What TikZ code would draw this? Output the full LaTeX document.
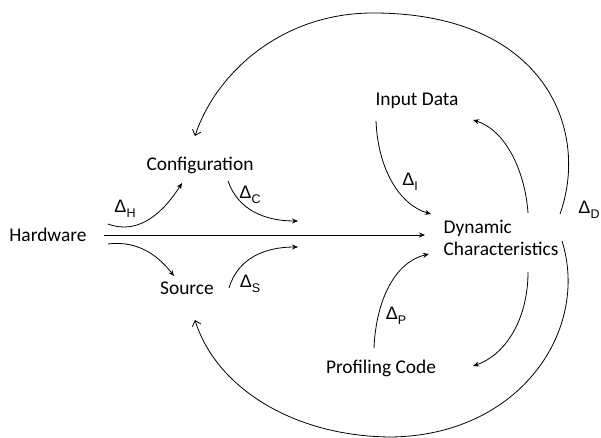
\documentclass[tikz,border=0pt]{standalone}
\usepackage{fontspec}
\setmainfont{Carlito}
\newfontfamily\dltfont{Liberation Sans}
\newcommand\dlt[1]{{\dltfont\fontsize{18bp}{20bp}\selectfont Δ}\raisebox{-5bp}{\dltfont\fontsize{12.5bp}{13bp}\selectfont #1}}
\usetikzlibrary{arrows.meta}
\begin{document}
\begin{tikzpicture}[x=1bp,y=-1bp,
  lbl/.style={font=\fontsize{19.4bp}{22bp}\selectfont, inner sep=0pt},
  dl/.style={inner sep=0pt},
  conn/.style={-{Stealth[length=6bp,width=5bp]}, line width=0.8bp},
  bigarc/.style={-{Straight Barb[length=5bp,width=9bp]}, line width=0.8bp}]
\useasboundingbox (0,0) rectangle (601,438);
% nodes
\node[lbl] (hw) at (48,235) {Hardware};
\node[lbl] (cfg) at (200,165) {Configuration};
\node[lbl] (src) at (187,288) {Source};
\node[lbl] (inp) at (417,101) {Input Data};
\node[lbl, align=left] (dyn) at (501,238) {Dynamic\\Characteristics};
\node[lbl] (prof) at (381,368) {Profiling Code};
% labels
\node[dl] (dH) at (125,209) {\dlt{H}};
\node[dl] (dC) at (250,195) {\dlt{C}};
\node[dl] (dS) at (250,284) {\dlt{S}};
\node[dl] (dI) at (410,182) {\dlt{I}};
\node[dl] (dP) at (396,316) {\dlt{P}};
\node[dl] (dD) at (589,210) {\dlt{D}};
% endpoints
\coordinate (hwR) at (104,235);
\coordinate (dynL) at (425,235);
\coordinate (hwU) at (108,224);
\coordinate (cfgIn) at (182,183);
\coordinate (hwD) at (108,244);
\coordinate (srcIn) at (174,276);
\coordinate (cfgOut) at (228,181);
\coordinate (cEnd) at (298,221);
\coordinate (srcOut) at (229,288);
\coordinate (sEnd) at (298,247);
\coordinate (inpOut) at (376,121);
\coordinate (dynInI) at (431,214);
\coordinate (dynUp) at (528,213);
\coordinate (inpIn) at (473,120);
\coordinate (profOut) at (374,348);
\coordinate (dynInP) at (429,254);
\coordinate (dynDn) at (528,272);
\coordinate (profIn) at (473,366);
\coordinate (dynTR) at (560,214);
\coordinate (top) at (373,13);
\coordinate (cfgTop) at (195,136);
\coordinate (dynBR) at (562,241);
\coordinate (bot) at (390,437);
\coordinate (srcBot) at (195,320);
% connectors
\draw[conn] (hwR) -- (dynL);
\draw[conn] (hwU) .. controls (140,236) and (165,210) .. (cfgIn);
\draw[conn] (hwD) .. controls (140,240) and (160,258) .. (srcIn);
\draw[conn] (cfgOut) .. controls (238,210) and (265,221) .. (cEnd);
\draw[conn] (srcOut) .. controls (238,258) and (265,247) .. (sEnd);
\draw[conn] (inpOut) .. controls (378,170) and (400,205) .. (dynInI);
\draw[conn] (dynUp) .. controls (525,170) and (505,130) .. (inpIn);
\draw[conn] (profOut) .. controls (376,300) and (395,262) .. (dynInP);
\draw[conn] (dynDn) .. controls (528,320) and (505,355) .. (profIn);
\draw[bigarc] (dynTR) .. controls (590,130) and (545,13) .. (top)
  .. controls (280,13) and (215,75) .. (cfgTop);
\draw[bigarc] (dynBR) .. controls (590,330) and (520,436) .. (bot)
  .. controls (290,436) and (215,385) .. (srcBot);
\end{tikzpicture}
\end{document}
